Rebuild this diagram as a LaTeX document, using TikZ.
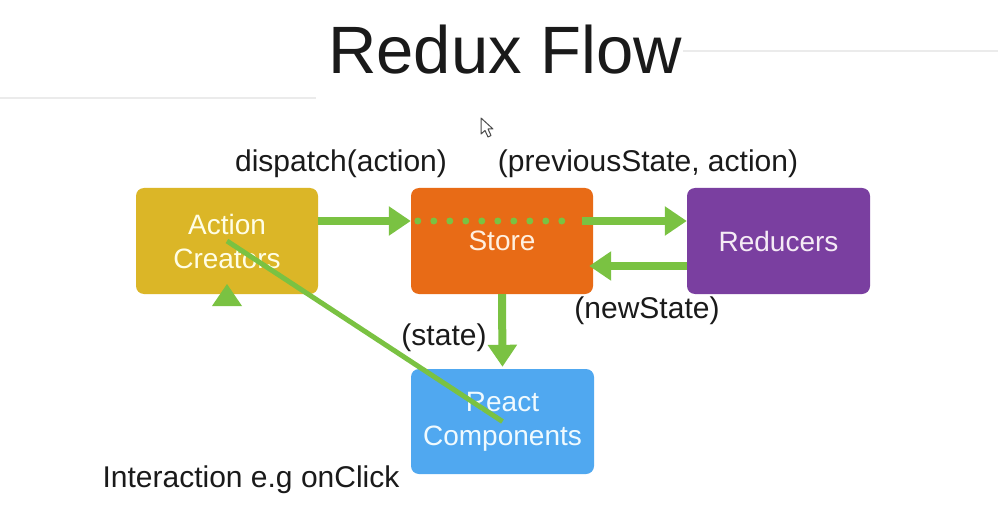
\documentclass[tikz,border=0pt]{standalone}
\usepackage{fontspec}
\setmainfont{Liberation Sans}
\usetikzlibrary{arrows.meta}
\definecolor{acY}{HTML}{DBB627}
\definecolor{stO}{HTML}{E86B16}
\definecolor{rdP}{HTML}{7A3FA0}
\definecolor{rcB}{HTML}{50A8F0}
\definecolor{grn}{HTML}{7AC242}
\definecolor{txtD}{HTML}{1A1A1A}
\begin{document}
\begin{tikzpicture}[x=1pt,y=-1pt,
  box/.style={rounded corners=8pt, minimum width=182pt, minimum height=106pt, inner sep=0pt, align=center, font=\fontsize{28}{34}\selectfont},
  lbl/.style={anchor=base, font=\fontsize{30}{36}\selectfont, text=txtD, inner sep=0pt},
  flow/.style={draw=grn, line width=8pt, -{Triangle[length=22pt,width=28pt]}},
  dotline/.style={draw=grn, line width=7pt, line cap=round, dash pattern=on 0pt off 16pt},
  link/.style={draw=grn, line width=5pt},
  faint/.style={draw=black!8, line width=1.5pt}
]
\fill[white] (0,0) rectangle (998,513);
\useasboundingbox (0,0) rectangle (998,513);
\draw[faint] (0,98) -- (316,98);
\draw[faint] (683,51) -- (998,51);

\node[anchor=base, font=\fontsize{67}{80}\selectfont, text=txtD, inner sep=0pt] (title) at (505,74) {Redux Flow};

\node[box, fill=acY, text=yellow!10] (ac) at (227,241) {Action\\Creators};
\node[box, fill=stO, text=orange!12] (st) at (502,241) {Store};
\node[box, fill=rdP, minimum width=183pt, text=violet!8] (rd) at (778.5,241) {Reducers};
\node[box, fill=rcB, minimum width=183pt, minimum height=105pt, text=cyan!6] (rc) at (502.5,421.5) {React\\Components};

\node[lbl] (l1) at (341,172) {dispatch(action)};
\node[lbl] (l2) at (648,172) {(previousState, action)};
\node[lbl] (l3) at (647,318) {(newState)};
\node[lbl] (l4) at (444,345) {(state)};
\node[lbl] (l5) at (251,487) {Interaction e.g onClick};

\draw[flow] ([yshift=20pt]ac.east) -- ([yshift=20pt]st.west);
\draw[dotline] ([xshift=7pt,yshift=20pt]st.west) -- ([xshift=-30pt,yshift=20pt]st.east);
\draw[flow] ([xshift=-11pt,yshift=20pt]st.east) -- ([yshift=20pt]rd.west);
\draw[flow] ([yshift=-25pt]rd.west) -- ([xshift=-4pt,yshift=-25pt]st.east);
\draw[flow] (st.south) -- ([yshift=2pt]rc.north);
\draw[link] (ac.center) -- (rc.center);
\fill[grn] (227,284) -- (242,306) -- (212,306) -- cycle;

\draw[black!70, fill=white, line width=1pt, line join=round] (481,118) -- (481,134) -- (485,130.5) -- (488,137) -- (491,135.5) -- (488,129) -- (493,129) -- cycle;
\end{tikzpicture}
\end{document}
